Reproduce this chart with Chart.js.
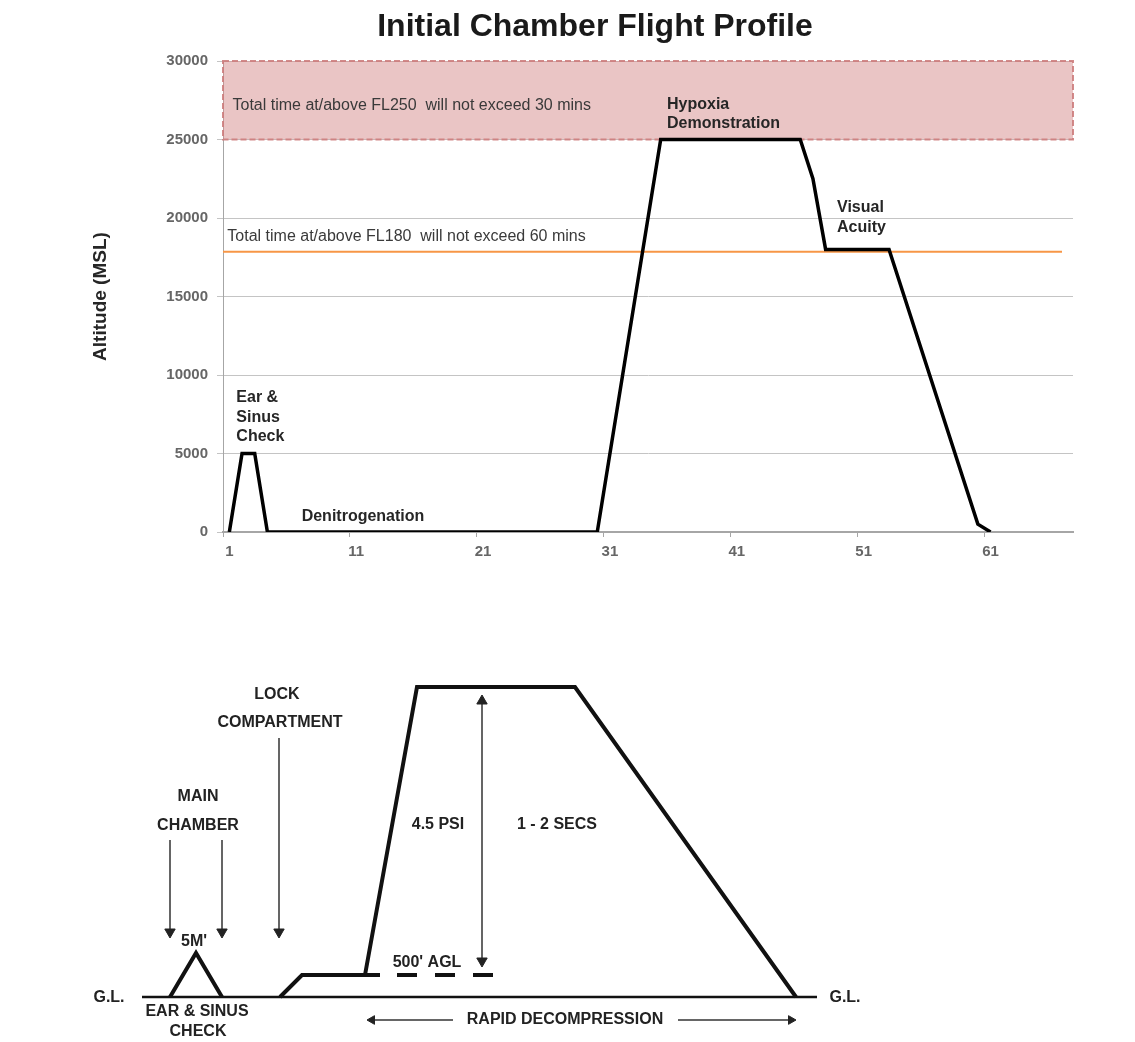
<!DOCTYPE html>
<html>
<head>
<meta charset="utf-8">
<script src="https://cdn.jsdelivr.net/npm/chart.js@4.4.1/dist/chart.umd.min.js"></script>
<style>
  body { margin: 0; background: #fff; }
  #wrap { position: relative; width: 1135px; height: 1042px; }
  #profileChart { position: absolute; left: 0; top: 0; }
  #diagramChart { position: absolute; left: 0; top: 640px; }
</style>
</head>
<body>
<div id="wrap">
  <canvas id="profileChart" width="1135" height="580"></canvas>
  <canvas id="diagramChart" width="1135" height="402"></canvas>
</div>
<script>
// ---- top chart: altitude per minute ----
const minutes = ['1','2','3','4','5','6','7','8','9','10','11','12','13','14','15','16','17','18','19','20',
  '21','22','23','24','25','26','27','28','29','30','31','32','33','34','35','36','37','38','39','40',
  '41','42','43','44','45','46','47','48','49','50','51','52','53','54','55','56','57','58','59','60',
  '61','62','63','64','65','66','67'];

// null = no reading, the line just joins the neighbours
const altitude = [0, 5000, 5000, 0, 0, 0, 0, 0, 0, 0,          // 1-10
  0, 0, 0, 0, 0, 0, 0, 0, 0, 0,                                // 11-20
  0, 0, 0, 0, 0, 0, 0, 0, 0, 0,                                // 21-30
  null, null, null, null, 25000, 25000, 25000, 25000, 25000, 25000, // 31-40
  25000, 25000, 25000, 25000, 25000, 25000, 22500, 18000, 18000, 18000, // 41-50
  18000, 18000, 18000, null, null, null, null, null, null, 500,  // 51-60
  0, null, null, null, null, null, null];                      // 61-67

const xTickLabels = ['1', '11', '21', '31', '41', '51', '61'];
const yTicks = [0, 5000, 10000, 15000, 20000, 25000, 30000];

const fl250Band = [25000, 30000];
const fl180Level = 17850;
const fl250Note = 'Total time at/above FL250  will not exceed 30 mins';
const fl180Note = 'Total time at/above FL180  will not exceed 60 mins';

// phase notes, anchored at minute / altitude
const phaseNotes = [
  { lines: ['Ear &', 'Sinus', 'Check'], minute: 1.55, alt: 8550 },
  { lines: ['Denitrogenation'], minute: 6.7, alt: 960 },
  { lines: ['Hypoxia', 'Demonstration'], minute: 35.5, alt: 27250 },
  { lines: ['Visual', 'Acuity'], minute: 48.9, alt: 20650 }
];

const FONT = '"Liberation Sans", Arial, sans-serif';

const profileExtras = {
  id: 'profileExtras',
  beforeDatasetsDraw(chart) {
    const { ctx, chartArea, scales: { x, y } } = chart;
    const top = y.getPixelForValue(fl250Band[1]);
    const bottom = y.getPixelForValue(fl250Band[0]);
    ctx.save();
    ctx.fillStyle = 'rgba(214,140,140,0.5)';
    ctx.fillRect(chartArea.left, top, chartArea.right - chartArea.left, bottom - top);
    ctx.setLineDash([6, 3]);
    ctx.strokeStyle = 'rgba(205,125,125,0.9)';
    ctx.lineWidth = 2;
    ctx.strokeRect(chartArea.left, top, chartArea.right - chartArea.left, bottom - top);
    ctx.setLineDash([]);
    // FL180 limit line
    const ly = y.getPixelForValue(fl180Level);
    ctx.strokeStyle = '#f79646';
    ctx.lineWidth = 2;
    ctx.beginPath();
    ctx.moveTo(chartArea.left, ly);
    ctx.lineTo(chartArea.right - 11, ly);
    ctx.stroke();
    ctx.restore();
  },
  afterDatasetsDraw(chart) {
    const { ctx, scales: { x, y } } = chart;
    ctx.save();
    ctx.textBaseline = 'middle';
    ctx.textAlign = 'left';
    ctx.fillStyle = '#3a3a3a';
    ctx.font = '16px ' + FONT;
    ctx.fillText(fl250Note, x.getPixelForValue(0.25), y.getPixelForValue(27150));
    ctx.fillText(fl180Note, x.getPixelForValue(-0.16), y.getPixelForValue(18830));
    ctx.fillStyle = '#262626';
    ctx.font = 'bold 16px ' + FONT;
    phaseNotes.forEach(n => {
      const px = x.getPixelForValue(n.minute - 1);
      const py = y.getPixelForValue(n.alt);
      n.lines.forEach((t, i) => ctx.fillText(t, px, py + i * 19.5));
    });
    ctx.restore();
  },
  afterDraw(chart) {
    const ctx = chart.ctx;
    ctx.save();
    ctx.fillStyle = '#1a1a1a';
    ctx.font = 'bold 32px ' + FONT;
    ctx.textAlign = 'center';
    ctx.textBaseline = 'middle';
    ctx.fillText('Initial Chamber Flight Profile', 595, 27);
    ctx.restore();
  }
};

const profileChart = new Chart(document.getElementById('profileChart'), {
  type: 'line',
  data: {
    labels: minutes,
    datasets: [{
      label: 'Altitude',
      data: altitude,
      borderColor: '#000',
      borderWidth: 3.5,
      pointRadius: 0,
      spanGaps: true,
      tension: 0,
      fill: false
    }]
  },
  options: {
    responsive: false,
    animation: false,
    layout: { autoPadding: false, padding: { left: 0, top: 61, right: 62, bottom: 0 } },
    plugins: { legend: { display: false }, tooltip: { enabled: false }, title: { display: false } },
    scales: {
      x: {
        type: 'category',
        offset: true,
        afterFit: s => { s.height = 48; },
        border: { color: '#a6a6a6', width: 2 },
        grid: {
          offset: true,
          drawOnChartArea: false,
          tickLength: 5,
          color: c => (c.tick && xTickLabels.includes(c.tick.label)) || c.index === 0 ? '#a6a6a6' : 'rgba(0,0,0,0)'
        },
        ticks: {
          autoSkip: false,
          maxRotation: 0,
          padding: 6,
          color: '#666',
          font: { family: FONT, size: 15, weight: 'bold' },
          callback: (v, i) => xTickLabels.includes(minutes[i]) ? minutes[i] : ''
        }
      },
      y: {
        min: 0,
        max: 30000,
        afterFit: s => { s.width = 223; },
        afterBuildTicks: s => { s.ticks = yTicks.map(v => ({ value: v })); },
        border: { color: '#a6a6a6' },
        grid: { color: '#c4c4c4', tickLength: 6 },
        ticks: {
          padding: 9,
          color: '#666',
          font: { family: FONT, size: 15, weight: 'bold' },
          callback: v => String(v)
        },
        title: {
          display: true,
          text: 'Altitude (MSL)',
          color: '#262626',
          font: { family: FONT, size: 19, weight: 'bold' },
          padding: { top: 89, bottom: 0 }
        }
      }
    }
  },
  plugins: [profileExtras]
});

// ---- bottom schematic: x = run along the sketch, y = height above ground level ----
const groundX = [142, 817];
const groundY = [0, 0];
const earCheckX = [170, 196, 222];
const earCheckY = [0, 44, 0];
const lockRunX = [280, 302, 380];
const lockRunY = [0, 22, 22];
const decompX = [365, 417, 575, 796];
const decompY = [22, 310, 310, 0];
const aglX = [397, 497];
const aglY = [22, 22];

// down arrows into main chamber / lock compartment
const dropArrowX = [170, 222, 279];
const dropArrowTop = [157, 157, 259];
const dropArrowHead = [65, 65, 65];
// 4.5 PSI double arrow
const psiArrowX = 482;
const psiArrowY = [296, 36];
// rapid decompression span arrows
const spanArrowY = -23;
const spanLeftX = [453, 372];
const spanRightX = [678, 791];

const sketchNotes = [
  { text: 'G.L.', x: 109, y: -1 },
  { text: 'G.L.', x: 845, y: -1 },
  { text: "5M'", x: 194, y: 55 },
  { text: 'MAIN', x: 198, y: 200 },
  { text: 'CHAMBER', x: 198, y: 171 },
  { text: 'LOCK', x: 277, y: 302 },
  { text: 'COMPARTMENT', x: 280, y: 274 },
  { text: 'EAR & SINUS', x: 197, y: -15 },
  { text: 'CHECK', x: 198, y: -35 },
  { text: '4.5 PSI', x: 438, y: 172 },
  { text: '1 - 2 SECS', x: 557, y: 172 },
  { text: "500' AGL", x: 427, y: 34 },
  { text: 'RAPID DECOMPRESSION', x: 565, y: -23 }
];

const pts = (xs, ys) => xs.map((x, i) => ({ x, y: ys[i] }));
const trace = (xs, ys, w, extra) => Object.assign({
  data: pts(xs, ys), showLine: true, borderColor: '#111', borderWidth: w,
  pointRadius: 0, fill: false, tension: 0
}, extra || {});
const arrow = (xs, ys, radius, rotation) => ({
  data: pts(xs, ys), showLine: true, borderColor: '#333', borderWidth: 1.5,
  pointStyle: 'triangle', pointRadius: radius, pointRotation: rotation,
  pointBackgroundColor: '#222', pointBorderColor: '#222', pointBorderWidth: 1, fill: false
});

const sketchDatasets = [
  trace(groundX, groundY, 2.5),
  trace(earCheckX, earCheckY, 4),
  trace(lockRunX, lockRunY, 4),
  trace(decompX, decompY, 4),
  trace(aglX, aglY, 4, { borderDash: [20, 18] }),
  arrow([psiArrowX, psiArrowX], psiArrowY, [6, 6], [0, 180]),
  arrow(spanLeftX, [spanArrowY, spanArrowY], [0, 5], [0, 270]),
  arrow(spanRightX, [spanArrowY, spanArrowY], [0, 5], [0, 90])
];
dropArrowX.forEach((x, i) => {
  sketchDatasets.push(arrow([x, x], [dropArrowTop[i], dropArrowHead[i]], [0, 6], [0, 180]));
});

const sketchText = {
  id: 'sketchText',
  afterDatasetsDraw(chart) {
    const { ctx, scales: { x, y } } = chart;
    ctx.save();
    ctx.fillStyle = '#222';
    ctx.font = 'bold 16px ' + FONT;
    ctx.textAlign = 'center';
    ctx.textBaseline = 'middle';
    sketchNotes.forEach(n => ctx.fillText(n.text, x.getPixelForValue(n.x), y.getPixelForValue(n.y)));
    ctx.restore();
  }
};

const diagramChart = new Chart(document.getElementById('diagramChart'), {
  type: 'scatter',
  data: { datasets: sketchDatasets },
  options: {
    responsive: false,
    animation: false,
    layout: { autoPadding: false, padding: 0 },
    plugins: { legend: { display: false }, tooltip: { enabled: false } },
    scales: {
      x: { type: 'linear', min: 0, max: 1135, display: false },
      y: { type: 'linear', min: -45, max: 357, display: false }
    }
  },
  plugins: [sketchText]
});
</script>
</body>
</html>
